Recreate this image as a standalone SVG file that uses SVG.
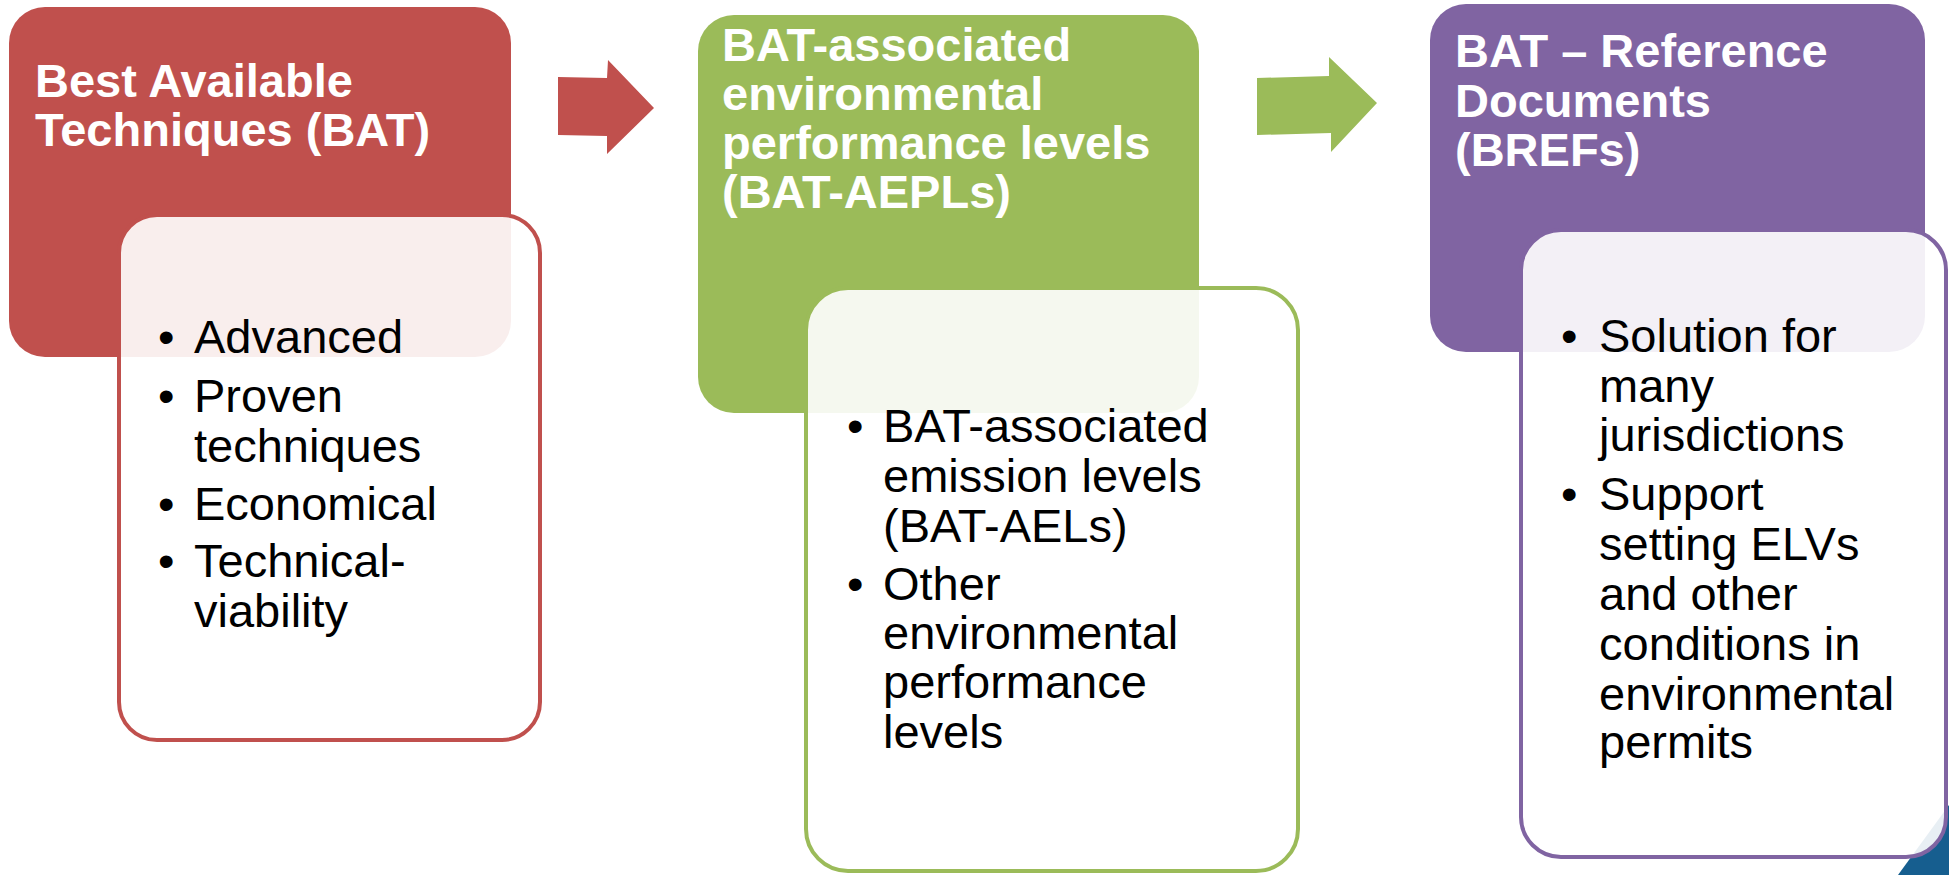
<svg xmlns="http://www.w3.org/2000/svg" width="1949" height="875" viewBox="0 0 1949 875">
<style>
.title{font-family:"Liberation Sans",Arial,sans-serif;font-size:47px;font-weight:bold;fill:#FFFFFF}
.body{font-family:"Liberation Sans",Arial,sans-serif;font-size:47px;fill:#000000}
.inner{fill:#FFFFFF;fill-opacity:0.9;stroke-width:4}
</style>
<rect width="1949" height="875" fill="#FFFFFF"/>
<polygon points="1898,875 1949,805 1949,875" fill="#165E8F"/>
<g id="connectors">
<polygon points="558,77 607,78 608,60 654,108 607,154 607,136 558,135" fill="#C0504D"/>
<polygon points="1257,78 1329,76 1329,57 1377,103 1331,152 1331,133 1257,135" fill="#9BBB59"/>
</g>
<g id="node-bat">
<rect x="9" y="7" width="502" height="350" rx="36" fill="#C0504D"/>
<text class="title"><tspan x="35" y="97">Best Available</tspan><tspan x="35" y="146">Techniques (BAT)</tspan></text>
</g>
<g id="node-bat-details">
<rect class="inner" x="119" y="215" width="421" height="525" rx="38" stroke="#C0504D"/>
<text class="body"><tspan x="158" y="353">•</tspan><tspan x="194" y="353">Advanced</tspan><tspan x="158" y="412">•</tspan><tspan x="194" y="412">Proven</tspan><tspan x="194" y="462">techniques</tspan><tspan x="158" y="520">•</tspan><tspan x="194" y="520">Economical</tspan><tspan x="158" y="577">•</tspan><tspan x="194" y="577">Technical-</tspan><tspan x="194" y="627">viability</tspan></text>
</g>
<g id="node-aepl">
<rect x="698" y="15" width="501" height="398" rx="36" fill="#9BBB59"/>
<text class="title"><tspan x="722" y="61">BAT-associated</tspan><tspan x="722" y="110">environmental</tspan><tspan x="722" y="159">performance levels</tspan><tspan x="722" y="208">(BAT-AEPLs)</tspan></text>
</g>
<g id="node-aepl-details">
<rect class="inner" x="806" y="288" width="492" height="583" rx="42" stroke="#9BBB59"/>
<text class="body"><tspan x="847" y="442">•</tspan><tspan x="883" y="442">BAT-associated</tspan><tspan x="883" y="492">emission levels</tspan><tspan x="883" y="542">(BAT-AELs)</tspan><tspan x="847" y="600">•</tspan><tspan x="883" y="600">Other</tspan><tspan x="883" y="649">environmental</tspan><tspan x="883" y="698">performance</tspan><tspan x="883" y="748">levels</tspan></text>
</g>
<g id="node-bref">
<rect x="1430" y="4" width="495" height="348" rx="36" fill="#8064A2"/>
<text class="title"><tspan x="1455" y="67">BAT – Reference</tspan><tspan x="1455" y="117">Documents</tspan><tspan x="1455" y="166">(BREFs)</tspan></text>
</g>
<g id="node-bref-details">
<rect class="inner" x="1521" y="230" width="425" height="627" rx="40" stroke="#8064A2"/>
<text class="body"><tspan x="1561" y="352">•</tspan><tspan x="1599" y="352">Solution for</tspan><tspan x="1599" y="402">many</tspan><tspan x="1599" y="451">jurisdictions</tspan><tspan x="1561" y="510">•</tspan><tspan x="1599" y="510">Support</tspan><tspan x="1599" y="560">setting ELVs</tspan><tspan x="1599" y="610">and other</tspan><tspan x="1599" y="660">conditions in</tspan><tspan x="1599" y="710">environmental</tspan><tspan x="1599" y="758">permits</tspan></text>
</g>
</svg>
